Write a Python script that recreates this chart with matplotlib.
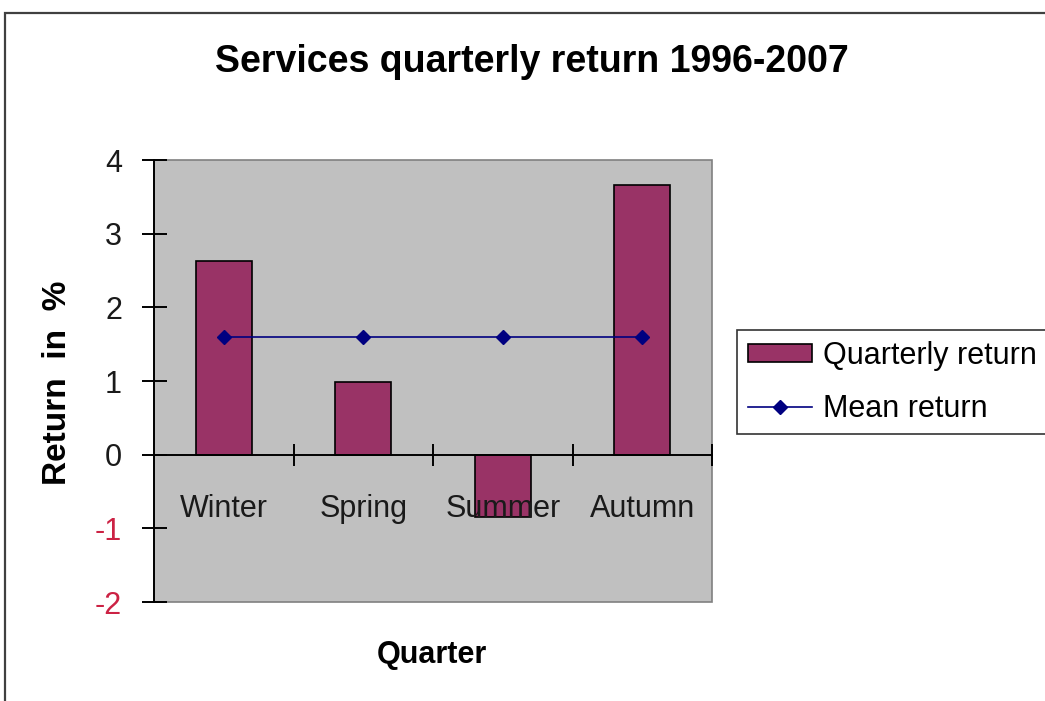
import numpy as np
import matplotlib.pyplot as plt
from matplotlib.patches import Rectangle

plt.rcParams['font.family'] = ['Liberation Sans', 'DejaVu Sans']

# Data
quarters = ["Winter", "Spring", "Summer", "Autumn"]
quarterly_return = [2.63, 0.98, -0.85, 3.66]
mean_return = [1.60, 1.60, 1.60, 1.60]
y_ticks = [-2, -1, 0, 1, 2, 3, 4]

W, H = 1045, 701
fig = plt.figure(figsize=(W / 100, H / 100), dpi=100)

# outer chart border (cut off on the right and bottom)
fig.patches.append(Rectangle((5 / W, -0.05), 1.1, 1 - 13 / H + 0.05,
                             transform=fig.transFigure, fill=False,
                             edgecolor='#404040', linewidth=1.6))

left, right, top, bottom = 154, 712, 160, 602
ax = fig.add_axes([left / W, 1 - bottom / H, (right - left) / W, (bottom - top) / H])
ax.set_facecolor('#C0C0C0')
ax.set_axisbelow(False)  # category labels sit on top of the bars

x = np.arange(len(quarters))
bars = ax.bar(x, quarterly_return, width=0.4, color='#993366',
              edgecolor='black', linewidth=1.2, label='Quarterly return', zorder=2)
line, = ax.plot(x, mean_return, color='#000080', linewidth=1.2, marker='D',
                markersize=7, label='Mean return', zorder=3)

ax.set_xlim(-0.5, 3.5)
ax.set_ylim(-2, 4)

# spines: black y axis, x axis through zero, gray plot-area frame
for s in ['top', 'right']:
    ax.spines[s].set_visible(False)
ax.spines['bottom'].set_position(('data', 0))
ax.spines['bottom'].set_linewidth(1.4)
ax.spines['left'].set_linewidth(1.4)
ax.add_patch(Rectangle((0, 0), 1, 1, transform=ax.transAxes, fill=False,
                       edgecolor='#808080', linewidth=1.2, zorder=0.5, clip_on=False))

ax.set_yticks(y_ticks)
ax.set_yticklabels([str(v) for v in y_ticks])
ax.tick_params(axis='y', direction='inout', length=18, width=1.4, pad=14,
               labelsize=22, labelcolor='#1a1a1a')
for lab, v in zip(ax.get_yticklabels(), y_ticks):
    if v < 0:
        lab.set_color('#CC2244')

ax.set_xticks(x)
ax.set_xticklabels(quarters)
ax.tick_params(axis='x', which='major', length=0, pad=28, labelsize=22,
               labelcolor='#1a1a1a')
ax.set_xticks(x + 0.5, minor=True)
ax.tick_params(axis='x', which='minor', direction='inout', length=16, width=1.4)

fig.text(532 / W, 1 - 62 / H, "Services quarterly return 1996-2007",
         ha='center', va='center', fontsize=27, fontweight='bold')
fig.text(58 / W, 1 - 383 / H, "Return  in  %", ha='center', va='center',
         rotation=90, fontsize=24, fontweight='bold')
fig.text(432 / W, 1 - 655 / H, "Quarter", ha='center', va='center',
         fontsize=22, fontweight='bold')

leg = fig.legend(handles=[bars, line], loc='upper left',
                 bbox_to_anchor=(737 / W, 1 - 330 / H), fontsize=22,
                 frameon=True, fancybox=False, borderaxespad=0,
                 borderpad=0.35, handlelength=2.1, handleheight=0.5,
                 handletextpad=0.35, labelspacing=0.75)
leg.get_frame().set_edgecolor('black')
leg.get_frame().set_linewidth(1.2)

fig.savefig("out.png", dpi=100)
